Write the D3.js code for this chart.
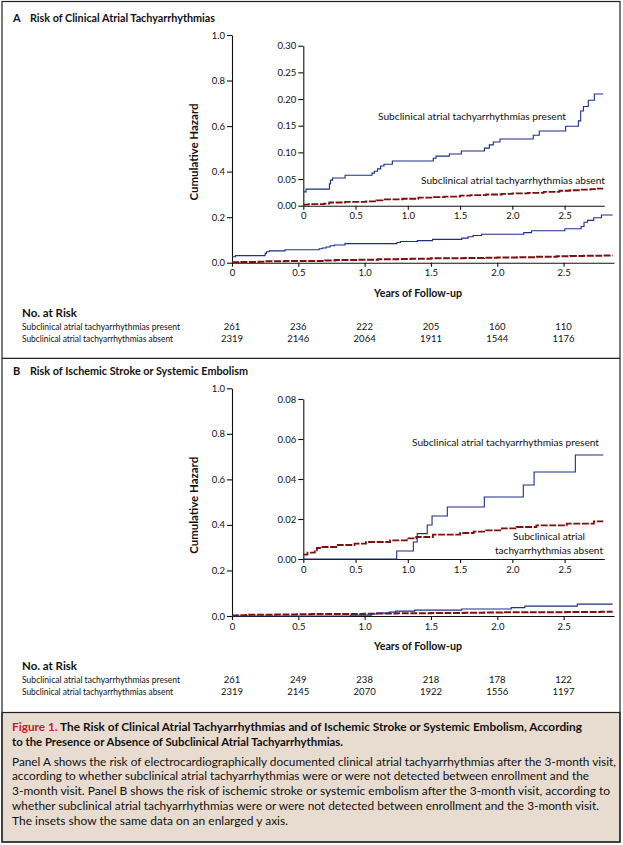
<!DOCTYPE html>
<html>
<head>
<meta charset="utf-8">
<script src="https://cdn.jsdelivr.net/npm/d3@7"></script>
<style>
  body { margin: 0; background: #fff; }
  svg { display: block; }
  text { font-family: Lato, "Open Sans", sans-serif; fill: #111; }
</style>
</head>
<body>
<svg id="chart"></svg>
<script>
const W = 623, H = 845;

// shared axis values
const yearTicks = [0, 0.5, 1, 1.5, 2, 2.5];
const followUpEnd = 2.87;
const mainTicks = [0, 0.2, 0.4, 0.6, 0.8, 1.0];
const insetTicksA = [0, 0.05, 0.10, 0.15, 0.20, 0.25, 0.30];
const insetTicksB = [0, 0.02, 0.04, 0.06, 0.08];
const groupLabels = ["Subclinical atrial tachyarrhythmias present", "Subclinical atrial tachyarrhythmias absent"];

// Panel A: clinical atrial tachyarrhythmias, [years, cumulative hazard]
const presentA = [[0, 0.026], [0.026, 0.031], [0.25, 0.041], [0.26, 0.048], [0.28, 0.052], [0.40, 0.057],
  [0.657, 0.061], [0.68, 0.0645], [0.71, 0.069], [0.74, 0.0745], [0.772, 0.0776], [0.852, 0.0838],
  [1.244, 0.0889], [1.27, 0.093], [1.397, 0.097], [1.512, 0.1026], [1.733, 0.108], [1.78, 0.114],
  [1.818, 0.1194], [1.882, 0.125], [2.20, 0.132], [2.258, 0.140], [2.51, 0.149], [2.632, 0.159],
  [2.654, 0.1775], [2.68, 0.186], [2.727, 0.1976], [2.785, 0.2094]];
const absentA = [[0, 0.002], [0.05, 0.003], [0.2, 0.004], [0.25, 0.006], [0.4, 0.007], [0.6, 0.008],
  [0.7, 0.010], [0.78, 0.012], [0.95, 0.013], [1.1, 0.015], [1.25, 0.016], [1.35, 0.017], [1.5, 0.019],
  [1.6, 0.020], [1.75, 0.021], [1.9, 0.022], [2.0, 0.023], [2.15, 0.024], [2.3, 0.026], [2.45, 0.028],
  [2.55, 0.029], [2.65, 0.030], [2.75, 0.031], [2.8, 0.032]];
const riskPresentA = [261, 236, 222, 205, 160, 110];
const riskAbsentA = [2319, 2146, 2064, 1911, 1544, 1176];

// Panel B: ischemic stroke or systemic embolism
const presentB = [[0, 0], [0.894, 0.004], [1.053, 0.0085], [1.09, 0.0127], [1.186, 0.017], [1.232, 0.0215],
  [1.378, 0.026], [1.732, 0.031], [2.105, 0.037], [2.208, 0.0435], [2.603, 0.052]];
const absentB = [[0, 0.0022], [0.04, 0.0032], [0.11, 0.0043], [0.13, 0.0055], [0.17, 0.006], [0.33, 0.007],
  [0.49, 0.0077], [0.6, 0.0085], [0.83, 0.0093], [0.99, 0.0103], [1.08, 0.011], [1.24, 0.0122],
  [1.5, 0.013], [1.63, 0.0137], [1.75, 0.0143], [1.9, 0.0153], [2.04, 0.016], [2.23, 0.0168],
  [2.52, 0.0177], [2.78, 0.0188]];
const riskPresentB = [261, 249, 238, 218, 178, 122];
const riskAbsentB = [2319, 2145, 2070, 1922, 1556, 1197];

const blue = "#1d2f86", red = "#7c1111";

const svg = d3.select("#chart").attr("width", W).attr("height", H);

// squeeze a text to the width it has in the figure
function fit(sel, w) {
  sel.attr("textLength", w).attr("lengthAdjust", "spacingAndGlyphs");
  return sel;
}

const stepLine = (x, y) => d3.line()
  .x(d => x(d[0]))
  .y(d => y(d[1]))
  .curve(d3.curveStepAfter);

function withEnd(data) {
  return data.concat([[followUpEnd, data[data.length - 1][1]]]);
}

function drawCurves(g, x, y, present, absent, thin) {
  g.append("path")
    .datum(withEnd(absent))
    .attr("d", stepLine(x, y))
    .attr("fill", "none")
    .attr("stroke", red)
    .attr("stroke-width", thin ? 1.8 : 2)
    .attr("stroke-dasharray", "7,1.6");
  g.append("path")
    .datum(withEnd(present))
    .attr("d", stepLine(x, y))
    .attr("fill", "none")
    .attr("stroke", blue)
    .attr("stroke-width", 1.1);
}

function styleAxis(g) {
  g.selectAll("path, line").attr("stroke", "#111").attr("stroke-width", 1.1);
  g.selectAll("text").attr("font-size", 9.5).attr("fill", "#111").attr("font-family", "Lato, sans-serif");
}

const yearFmt = d => d === 0 ? "0" : d3.format(".1f")(d);

function drawPanel(p) {
  const top = p.top;
  const g = svg.append("g");

  g.append("text").attr("x", 13).attr("y", top + 22)
    .attr("font-weight", 700).attr("font-size", 11).text(p.letter);
  fit(g.append("text").attr("x", 30).attr("y", top + 22)
    .attr("font-weight", 700).attr("font-size", 11).text(p.title), p.titleW);

  // main plot
  const x = d3.scaleLinear().domain([0, 2.88]).range([232, 614]);
  const y = d3.scaleLinear().domain([0, 1]).range([top + 262.7, top + 35]);

  g.append("g").attr("transform", `translate(0,${top + 262.7})`)
    .call(d3.axisBottom(x).tickValues(yearTicks).tickFormat(yearFmt).tickSize(4).tickPadding(3).tickSizeOuter(0))
    .call(styleAxis);
  g.append("g").attr("transform", "translate(232,0)")
    .call(d3.axisLeft(y).tickValues(mainTicks).tickFormat(d3.format(".1f")).tickSize(5).tickPadding(2).tickSizeOuter(0))
    .call(styleAxis);

  drawCurves(g, x, y, p.present, p.absent, false);

  fit(g.append("text")
    .attr("transform", `translate(198,${top + 152}) rotate(-90)`)
    .attr("text-anchor", "middle").attr("font-weight", 700).attr("font-size", 10.5)
    .text("Cumulative Hazard"), 97);
  fit(g.append("text").attr("x", 418).attr("y", top + 297)
    .attr("text-anchor", "middle").attr("font-weight", 700).attr("font-size", 10.5)
    .text("Years of Follow-up"), 88);

  // inset
  const xi = d3.scaleLinear().domain([0, 2.88]).range([303.3, 604.3]);
  const yi = d3.scaleLinear().domain(p.insetDomain).range([top + 205.7, top + 45.7]);
  const fmt = d3.format(".2f");

  g.append("g").attr("transform", `translate(0,${top + 205.7})`)
    .call(d3.axisBottom(xi).tickValues(yearTicks).tickFormat(yearFmt).tickSize(4).tickPadding(3).tickSizeOuter(0))
    .call(styleAxis);
  g.append("g").attr("transform", "translate(303.3,0)")
    .call(d3.axisLeft(yi).tickValues(p.insetTicks).tickFormat(fmt).tickSize(5).tickPadding(2).tickSizeOuter(0))
    .call(styleAxis);

  drawCurves(g, xi, yi, p.present, p.absent, true);

  p.notes.forEach(n => {
    const t = g.append("text").attr("x", n.x).attr("y", top + n.y)
      .attr("font-size", 9.5).attr("text-anchor", n.anchor || "start").text(n.text);
    fit(t, n.w);
  });

  // numbers at risk
  fit(g.append("text").attr("x", 22).attr("y", top + 317)
    .attr("font-weight", 700).attr("font-size", 10.5).text("No. at Risk"), 55);
  const rows = [p.riskPresent, p.riskAbsent];
  rows.forEach((vals, i) => {
    const by = top + 329.5 + i * 12.5;
    fit(g.append("text").attr("x", 22).attr("y", by).attr("font-size", 9.5).text(groupLabels[i]), i === 0 ? 158 : 151);
    g.selectAll(null).data(vals).enter().append("text")
      .attr("x", (d, j) => x(yearTicks[j]))
      .attr("y", by)
      .attr("text-anchor", "middle")
      .attr("font-size", 9.5)
      .text(d => d);
  });
}

drawPanel({
  top: 0, letter: "A", title: "Risk of Clinical Atrial Tachyarrhythmias", titleW: 185,
  present: presentA, absent: absentA, insetDomain: [0, 0.30], insetTicks: insetTicksA,
  riskPresent: riskPresentA, riskAbsent: riskAbsentA,
  notes: [
    { x: 378, y: 120, w: 188, text: groupLabels[0] },
    { x: 421, y: 184, w: 184, text: groupLabels[1] }
  ]
});

drawPanel({
  top: 353.3, letter: "B", title: "Risk of Ischemic Stroke or Systemic Embolism", titleW: 218,
  present: presentB, absent: absentB, insetDomain: [0, 0.08], insetTicks: insetTicksB,
  riskPresent: riskPresentB, riskAbsent: riskAbsentB,
  notes: [
    { x: 412, y: 92.5, w: 187, text: groupLabels[0] },
    { x: 549, y: 186.5, w: 72, text: "Subclinical atrial", anchor: "middle" },
    { x: 549, y: 200.2, w: 108, text: "tachyarrhythmias absent", anchor: "middle" }
  ]
});

// frames
svg.append("rect").attr("x", 2).attr("y", 712.5).attr("width", 618).attr("height", 129.5)
  .attr("fill", "#e8dcd0").attr("stroke", "#222").attr("stroke-width", 1.2);
svg.append("rect").attr("x", 2).attr("y", 1.5).attr("width", 618).attr("height", 840.5)
  .attr("fill", "none").attr("stroke", "#222").attr("stroke-width", 1.2);
svg.append("line").attr("x1", 2).attr("x2", 620).attr("y1", 358.3).attr("y2", 358.3)
  .attr("stroke", "#222").attr("stroke-width", 1.2);

// caption
const cap = svg.append("g");
const head = cap.append("text").attr("x", 12).attr("y", 731).attr("font-size", 11).attr("font-weight", 700);
head.append("tspan").attr("fill", "#c0212b").text("Figure 1.");
head.append("tspan").text(" The Risk of Clinical Atrial Tachyarrhythmias and of Ischemic Stroke or Systemic Embolism, According");
fit(head, 570);
fit(cap.append("text").attr("x", 12).attr("y", 746).attr("font-size", 11).attr("font-weight", 700)
  .text("to the Presence or Absence of Subclinical Atrial Tachyarrhythmias."), 331);

const body = [
  ["Panel A shows the risk of electrocardiographically documented clinical atrial tachyarrhythmias after the 3-month visit,", 604],
  ["according to whether subclinical atrial tachyarrhythmias were or were not detected between enrollment and the", 577],
  ["3-month visit. Panel B shows the risk of ischemic stroke or systemic embolism after the 3-month visit, according to", 598],
  ["whether subclinical atrial tachyarrhythmias were or were not detected between enrollment and the 3-month visit.", 587],
  ["The insets show the same data on an enlarged y axis.", 276]
];
body.forEach((b, i) => {
  fit(cap.append("text").attr("x", 12).attr("y", 765.5 + i * 14.8).attr("font-size", 10.8).text(b[0]), b[1]);
});
</script>
</body>
</html>
